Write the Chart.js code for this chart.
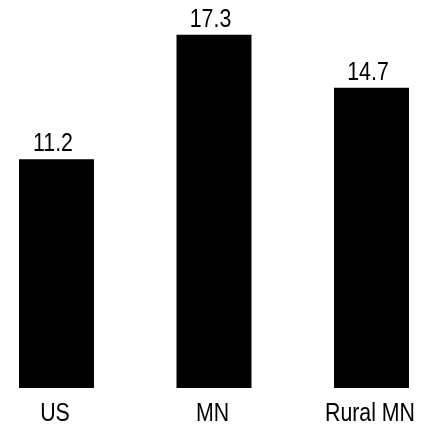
<!DOCTYPE html>
<html>
<head>
<meta charset="utf-8">
<script src="https://cdn.jsdelivr.net/npm/chart.js@4"></script>
<style>
html,body{margin:0;padding:0;background:#fff;}
#wrap{width:433px;height:426px;position:relative;}
</style>
</head>
<body>
<div id="wrap"><canvas id="c"></canvas></div>
<script>
const categories = ['US', 'MN', 'Rural MN'];
const values = [11.2, 17.3, 14.7];
const valueLabels = ['11.2', '17.3', '14.7'];

const FONT = "'Liberation Sans', Arial, sans-serif";
const NARROW = 0.82;

function narrowText(ctx, text, x, y) {
  ctx.save();
  ctx.translate(x, y);
  ctx.scale(NARROW, 1);
  ctx.fillText(text, 0, 0);
  ctx.restore();
}

const labelPlugin = {
  id: 'textLabels',
  afterDatasetsDraw(chart) {
    const ctx = chart.ctx;
    const meta = chart.getDatasetMeta(0);
    const xScale = chart.scales.x;
    ctx.save();
    ctx.font = '26px ' + FONT;
    ctx.fillStyle = '#000';
    ctx.textAlign = 'center';
    ctx.textBaseline = 'alphabetic';
    meta.data.forEach((bar, i) => {
      narrowText(ctx, valueLabels[i], bar.x - 3.5, bar.y - 8);
    });
    categories.forEach((c, i) => {
      const x = xScale.getPixelForValue(i);
      narrowText(ctx, c, x - 1.5, chart.chartArea.bottom + 33);
    });
    ctx.restore();
  }
};

new Chart(document.getElementById('c'), {
  type: 'bar',
  data: {
    labels: categories,
    datasets: [{
      data: values,
      backgroundColor: '#000',
      borderWidth: 0,
      barPercentage: 0.476,
      categoryPercentage: 1,
      clip: false
    }]
  },
  options: {
    responsive: true,
    maintainAspectRatio: false,
    animation: false,
    layout: { padding: { left: 56.5, right: 61.5, top: 0, bottom: 38 } },
    plugins: { legend: { display: false }, tooltip: { enabled: false } },
    scales: {
      x: {
        display: false,
        offset: false
      },
      y: {
        display: false,
        min: 0,
        max: 19
      }
    }
  },
  plugins: [labelPlugin]
});
</script>
</body>
</html>
